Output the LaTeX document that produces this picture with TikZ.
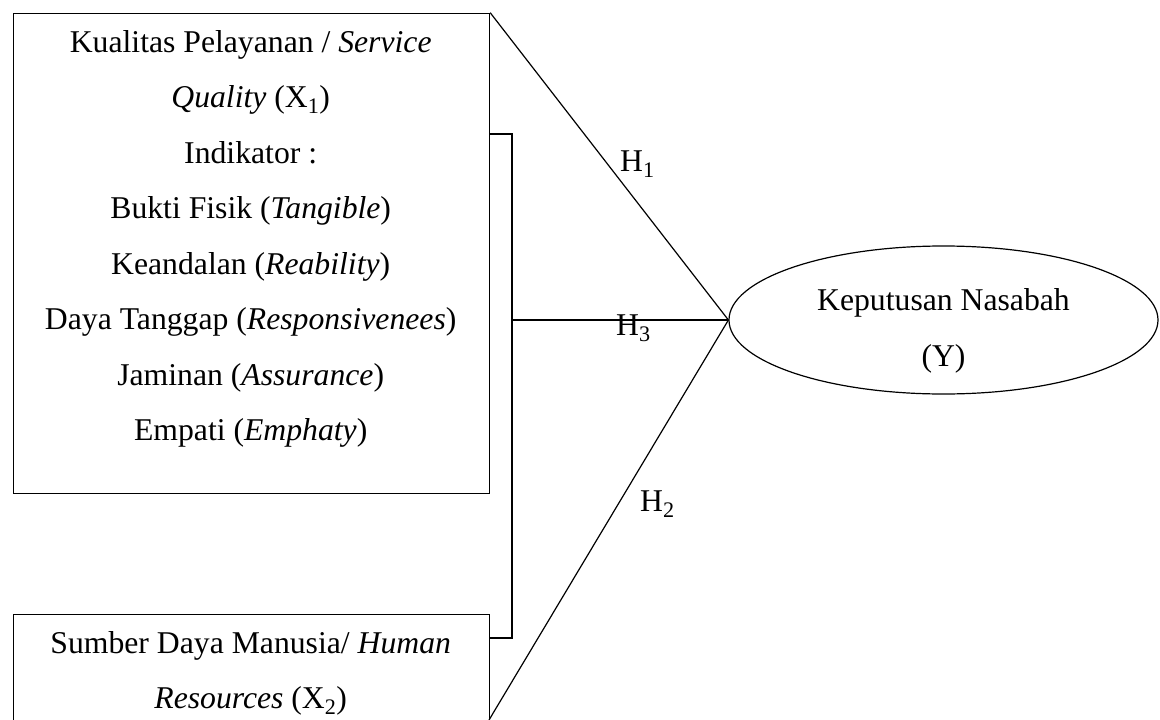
\documentclass[tikz,border=0pt]{standalone}
\usepackage{fontspec}
\setmainfont{Liberation Serif}
\usetikzlibrary{shapes.geometric}
\tikzset{
  box/.style={draw, line width=1.2pt, minimum width=476.5pt, minimum height=480pt, anchor=north west, inner sep=0pt},
  conn/.style={line width=1.2pt},
  txt/.style={anchor=base, inner sep=0pt, font=\fontsize{31.7}{55.5}\selectfont},
}

\begin{document}
\begin{tikzpicture}[x=1pt, y=-1pt]
    \useasboundingbox (0,0) rectangle (1160,720);
    \clip (0,0) rectangle (1160,720);

    % Variables
    \node[box] (x1) at (12.5,12.7) {};
    \node[box] (x2) at (12.5,614) {};
    \node[draw, ellipse, line width=1.2pt, minimum width=429pt, minimum height=148pt, inner sep=0pt] (y) at (943.5,320) {};

    % Texts of X1
    \foreach \ln [count=\i] in {
        {Kualitas Pelayanan / \textit{Service}},
        {\textit{Quality} (X\textsubscript{1})},
        {Indikator :},
        {Bukti Fisik (\textit{Tangible})},
        {Keandalan (\textit{Reability})},
        {Daya Tanggap (\textit{Responsivenees})},
        {Jaminan (\textit{Assurance})},
        {Empati (\textit{Emphaty})}} {
        \node[txt] (k\i) at (250.7,{52+(\i-1)*55.5}) {\ln};
    }

    % Texts of X2 and Y
    \node[txt] (s1) at (250.7,653) {Sumber Daya Manusia/ \textit{Human}};
    \node[txt] (s2) at (250.7,708.5) {\textit{Resources} (X\textsubscript{2})};
    \node[txt] (y1) at (943.5,310) {Keputusan Nasabah};
    \node[txt] (y2) at (943.5,366) {(Y)};

    % Bracket joining X1 and X2
    \coordinate (bt) at (489,134);
    \coordinate (bb) at (489,638);
    \coordinate (bx) at (512,0);
    \coordinate (x2c) at (489,720);
    \draw[conn] (bt) -- (bx |- bt) -- (bx |- bb) -- (bb);

    % Hypotheses
    \draw[conn] (x1.north east) -- (y.west);
    \draw[conn] (bx |- y.west) -- (y.west);
    \draw[conn] (x2c) -- (y.west);
    \node[txt, anchor=base west] (h1) at (620,171) {H\textsubscript{1}};
    \node[txt, anchor=base west] (h3) at (616,335) {H\textsubscript{3}};
    \node[txt, anchor=base west] (h2) at (640,511) {H\textsubscript{2}};
\end{tikzpicture}
\end{document}
